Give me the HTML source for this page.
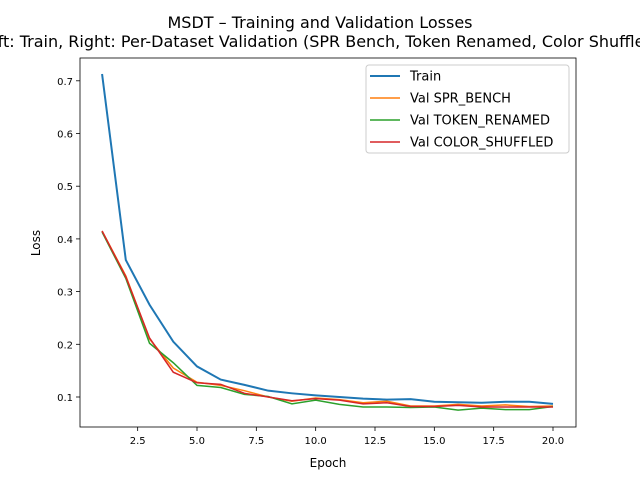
<!DOCTYPE html>
<html><head><meta charset="utf-8"><style>body{margin:0;background:#fff}svg{display:block;font-family:"DejaVu Sans","Liberation Sans",sans-serif}</style></head>
<body>
<svg id="chart" width="640" height="480">
<rect width="640" height="480" fill="#fff"/>
<text x="320" y="28" font-size="16" text-anchor="middle">MSDT – Training and Validation Losses</text>
<text x="320" y="47" font-size="16" text-anchor="middle">Left: Train, Right: Per-Dataset Validation (SPR Bench, Token Renamed, Color Shuffled)</text>
<g id="plot"></g>
<text x="328" y="467" font-size="12" text-anchor="middle">Epoch</text>
<text x="40" y="243" font-size="12" text-anchor="middle" transform="rotate(-90 40 243)">Loss</text>
</svg>
<script>
const epochs=[1,2,3,4,5,6,7,8,9,10,11,12,13,14,15,16,17,18,19,20];
const trainLoss=[0.713,0.36,0.275,0.205,0.158,0.133,0.123,0.112,0.107,0.103,0.100,0.097,0.095,0.096,0.091,0.090,0.089,0.091,0.091,0.087];
const valSpr=[0.415,0.33,0.21,0.155,0.128,0.122,0.112,0.100,0.092,0.098,0.095,0.089,0.092,0.083,0.083,0.086,0.083,0.085,0.082,0.083];
const valToken=[0.413,0.325,0.202,0.165,0.122,0.118,0.105,0.101,0.087,0.094,0.086,0.081,0.081,0.080,0.081,0.075,0.079,0.076,0.076,0.082];
const valColor=[0.415,0.328,0.212,0.147,0.127,0.124,0.107,0.100,0.093,0.097,0.094,0.087,0.089,0.082,0.082,0.084,0.081,0.081,0.081,0.081];
const xTicks=[2.5,5.0,7.5,10.0,12.5,15.0,17.5,20.0];
const yTicks=[0.1,0.2,0.3,0.4,0.5,0.6,0.7];
const L=80,R=576,T=58,B=427;
const xs=v=>197+(v-5)*(553-197)/15;
const ys=v=>397-(v-0.1)*527;
const NS="http://www.w3.org/2000/svg";
const g=document.getElementById('plot');
function mk(t,a){const e=document.createElementNS(NS,t);for(const k in a)e.setAttribute(k,a[k]);g.appendChild(e);return e;}
xTicks.forEach(t=>{
 const l=mk('line',{x1:xs(t),x2:xs(t),y1:B,y2:B+4,stroke:'#000','stroke-width':0.8});
 
 
 const tx=mk('text',{x:xs(t),y:B+17,'font-size':10,'text-anchor':'middle'});tx.textContent=t.toFixed(1);
 
 
});
yTicks.forEach(t=>{
 const l=mk('line',{x1:L-4,x2:L,y1:ys(t),y2:ys(t),stroke:'#000','stroke-width':0.8});
 
 
 const tx=mk('text',{x:L-7,y:ys(t)+4,'font-size':10,'text-anchor':'end'});tx.textContent=t.toFixed(1);
 
 
});
const series=[[trainLoss,'#1f77b4',2,'train-line'],[valSpr,'#ff7f0e',1.5,'val-spr-bench-line'],[valToken,'#2ca02c',1.5,'val-token-renamed-line'],[valColor,'#d62728',1.5,'val-color-shuffled-line']];
series.forEach(s=>{
 const p=mk('polyline',{points:epochs.map((e,i)=>xs(e)+','+ys(s[0][i])).join(' '),fill:'none',stroke:s[1],'stroke-width':s[2]});
 
 
});
const fr=mk('rect',{x:L,y:T,width:R-L,height:B-T,fill:'none',stroke:'#000','stroke-width':0.8});


const lg=mk('rect',{x:366,y:65,width:203,height:88,rx:3,fill:'#fff','fill-opacity':0.8,stroke:'#ccc'});


const names=['Train','Val SPR_BENCH','Val TOKEN_RENAMED','Val COLOR_SHUFFLED'];
names.forEach((n,i)=>{
 const y=76+i*22;
 const l=mk('line',{x1:370,x2:400,y1:y,y2:y,stroke:series[i][1],'stroke-width':series[i][2]});
 
 
 const t=mk('text',{x:410,y:y+4.5,'font-size':13});t.textContent=n;
 
 
});
</script>
</body></html>
